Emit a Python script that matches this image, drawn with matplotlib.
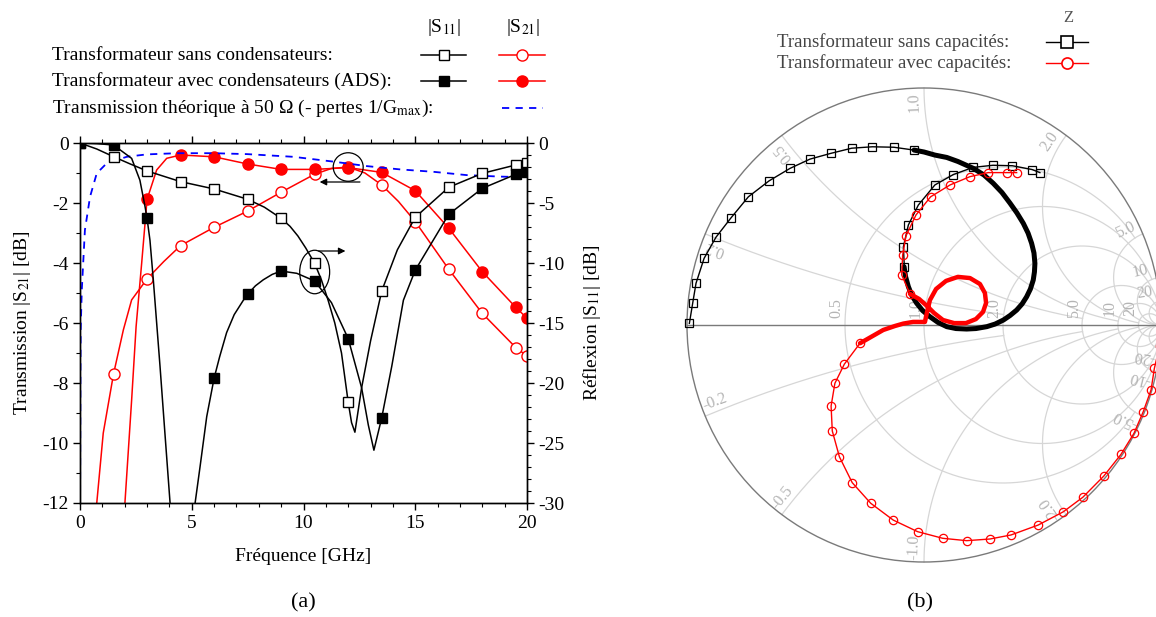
import numpy as np
import matplotlib
matplotlib.use('Agg')
import matplotlib.pyplot as plt
from matplotlib.lines import Line2D
from matplotlib.patches import Ellipse, Circle

plt.rcParams['font.family'] = ['Liberation Serif', 'DejaVu Serif']
plt.rcParams['mathtext.fontset'] = 'stix'
plt.rcParams['axes.unicode_minus'] = False

# ---------------- (a) : S-parameters vs frequency ----------------
# |S11| without capacitors (right axis, dB)
f_s11_sans = [0, 0.75, 1.5, 2.25, 3, 4.5, 6, 7.5, 8.25, 9, 9.4, 9.75, 10.1, 10.5, 10.8, 11.1,
              11.4, 11.7, 12, 12.15, 12.3, 12.6, 13.0, 13.5, 14.2, 15, 16.5, 18, 19.5, 20]
s11_sans = [0, -0.5, -1.14, -1.75, -2.33, -3.22, -3.83, -4.69, -5.35, -6.28, -6.95, -7.75,
            -8.75, -10.03, -11.4, -13.1, -15.0, -17.5, -21.6, -23.3, -24.1, -20.4, -16.5,
            -12.33, -8.9, -6.19, -3.69, -2.53, -1.83, -1.69]

# |S11| with capacitors (ADS, right axis, dB)
f_s11_avec = [0, 0.75, 1.5, 2.31, 2.68, 2.91, 3, 3.13, 3.28, 3.58, 3.8, 4.03, 4.5, 5.15,
              5.37, 5.67, 6, 6.25, 6.56, 6.9, 7.31, 7.5, 7.85, 8.2, 8.6, 9, 9.7, 10.5, 11.25,
              12, 12.6, 12.9, 13.15, 13.5, 13.95, 14.47, 15, 16.5, 18, 19.5, 20]
s11_avec = [0, -0.05, -0.17, -1.28, -3.1, -5.3, -6.28, -8.1, -11.4, -18.6, -24.2, -30, -50,
            -30, -27, -22.8, -19.6, -17.8, -15.8, -14.3, -13.1, -12.6, -11.9, -11.4, -10.95,
            -10.67, -10.86, -11.5, -13.3, -16.3, -20.4, -23.5, -25.6, -22.9, -18.6, -13.1,
            -10.6, -5.94, -3.78, -2.61, -2.44]

# |S21| without capacitors (left axis, dB)
f_s21_sans = [0.6, 0.75, 1.04, 1.5, 1.94, 2.31, 3, 3.75, 4.5, 6, 7.5, 9, 10.5, 11.25, 12,
              12.75, 13.5, 14.25, 15, 16.5, 18, 19.5, 20]
s21_sans = [-13.5, -12, -9.67, -7.7, -6.23, -5.23, -4.53, -3.95, -3.42, -2.81, -2.27, -1.64,
            -1.04, -0.85, -0.8, -1.0, -1.4, -1.95, -2.62, -4.21, -5.68, -6.82, -7.1]

# |S21| with capacitors (ADS, left axis, dB)
f_s21_avec = [1.9, 2.01, 2.31, 2.51, 2.76, 3, 3.43, 3.88, 4.5, 6, 7.5, 9, 10.5, 12, 13.5,
              15, 16.5, 18, 19.5, 20]
s21_avec = [-13, -12, -8.57, -6.12, -4.0, -1.88, -0.9, -0.51, -0.4, -0.46, -0.7, -0.88,
            -0.88, -0.82, -0.98, -1.59, -2.84, -4.29, -5.48, -5.84]

# theoretical transmission at 50 ohm (left axis, dB)
f_theo = [0.0, 0.02, 0.03, 0.08, 0.22, 0.45, 0.75, 1.19, 1.64, 2.09, 2.98, 4.33, 5.96, 7.46,
          9.54, 11.33, 12.83, 14.32, 15.81, 17.3, 18.79, 20]
s21_theo = [-13, -7.5, -6.23, -4.9, -2.9, -1.79, -1.01, -0.68, -0.57, -0.46, -0.38, -0.34,
            -0.34, -0.37, -0.46, -0.62, -0.77, -0.88, -0.96, -1.07, -1.12, -1.14]

legend_rows = ['Transformateur sans condensateurs:',
               'Transformateur avec condensateurs (ADS):',
               'Transmission théorique à 50 Ω (- pertes 1/G$_{\\mathrm{max}}$):']


def marker_idx(freqs):
    return [i for i, f in enumerate(freqs)
            if abs(f / 1.5 - round(f / 1.5)) < 1e-6 or f == 20]


fig = plt.figure(figsize=(11.56, 6.17), dpi=100)

ax = fig.add_axes([80 / 1156, 1 - 503 / 617, 447 / 1156, 360 / 617])
ax2 = ax.twinx()

ax.plot(f_theo, s21_theo, color='#0000ff', lw=1.3, ls=(0, (4, 3.5)), zorder=3)
ax.plot(f_s21_sans, s21_sans, color='red', lw=1.1, marker='o', ms=8, mfc='white',
        mec='red', mew=1.0, markevery=marker_idx(f_s21_sans))
ax.plot(f_s21_avec, s21_avec, color='red', lw=1.1, marker='o', ms=8, mfc='red',
        mec='red', markevery=marker_idx(f_s21_avec))
ax2.plot(f_s11_sans, s11_sans, color='black', lw=1.1, marker='s', ms=7, mfc='white',
         mec='black', mew=1.0, markevery=marker_idx(f_s11_sans))
ax2.plot(f_s11_avec, s11_avec, color='black', lw=1.1, marker='s', ms=7, mfc='black',
         mec='black', markevery=marker_idx(f_s11_avec))

ax.set_xlim(0, 20)
ax.set_ylim(-12, 0)
ax2.set_ylim(-30, 0)
ax.set_xticks(np.arange(0, 21, 5))
ax.set_xticks(np.arange(0, 21, 1), minor=True)
ax.set_yticks(np.arange(-12, 1, 2))
ax.set_yticks(np.arange(-12, 1, 1), minor=True)
ax2.set_yticks(np.arange(-30, 1, 5))
ax2.set_yticks(np.arange(-30, 1, 1), minor=True)
for a in (ax, ax2):
    a.tick_params(which='major', direction='out', length=5, width=1, labelsize=14, pad=3)
    a.tick_params(which='minor', direction='out', length=3, width=0.8)
    for s in a.spines.values():
        s.set_linewidth(1.0)
ax.tick_params(axis='x', which='both', top=True)
ax.tick_params(axis='x', which='major', pad=4)

ax.set_xlabel('Fréquence [GHz]', fontsize=14)
ax.set_ylabel('Transmission |S$_{21}$| [dB]', fontsize=14)
ax2.set_ylabel('Réflexion |S$_{11}$| [dB]', fontsize=14)
ax.xaxis.set_label_coords(0.5, -0.125)
ax.yaxis.set_label_coords(-0.105, 0.5)
ax2.yaxis.set_label_coords(1.12, 0.5)

# circled groups with arrows pointing to their axis
ax.add_patch(Ellipse((12.0, -0.8), 1.34, 0.95, fill=False, lw=0.9, color='black', zorder=5))
ax.add_patch(Ellipse((10.5, -4.3), 1.34, 1.45, fill=False, lw=0.9, color='black', zorder=5))
ax.annotate('', xy=(10.6, -1.3), xytext=(12.65, -1.3),
            arrowprops=dict(arrowstyle='-|>', lw=0.9, color='black', mutation_scale=10))
ax.annotate('', xy=(12.0, -3.6), xytext=(10.55, -3.6),
            arrowprops=dict(arrowstyle='-|>', lw=0.9, color='black', mutation_scale=10))

# legend block (a)
fs_leg = 14
fig.text(444 / 1156, 1 - 28 / 617, '|S$_{11}$|', ha='center', va='center', fontsize=fs_leg)
fig.text(523 / 1156, 1 - 28 / 617, '|S$_{21}$|', ha='center', va='center', fontsize=fs_leg)
for row, y in zip(legend_rows, [55, 81, 108]):
    fig.text(52 / 1156, 1 - y / 617, row, ha='left', va='center', fontsize=fs_leg)


def leg_sample(x0, x1, y, color, marker, mfc, ms):
    fig.add_artist(Line2D([x0 / 1156, x1 / 1156], [1 - y / 617] * 2,
                          transform=fig.transFigure, color=color, lw=1.1))
    fig.add_artist(Line2D([(x0 + x1) / 2 / 1156], [1 - y / 617], transform=fig.transFigure,
                          ls='none', marker=marker, ms=ms, mfc=mfc, mec=color, mew=1.0))


leg_sample(421, 466, 55, 'black', 's', 'white', 7)
leg_sample(499, 545, 55, 'red', 'o', 'white', 8)
leg_sample(421, 466, 81, 'black', 's', 'black', 7)
leg_sample(499, 545, 81, 'red', 'o', 'red', 8)
fig.add_artist(Line2D([502 / 1156, 543 / 1156], [1 - 108 / 617] * 2, transform=fig.transFigure,
                      color='#0000ff', lw=1.3, ls=(0, (4, 3.5))))

fig.text(303 / 1156, 1 - 603 / 617, '(a)', ha='center', va='center', fontsize=16)
fig.text(920 / 1156, 1 - 603 / 617, '(b)', ha='center', va='center', fontsize=16)

# ---------------- (b) : Smith chart (reflection coefficient) ----------------
# without capacitors: thin outer arc with markers
g_sans_outer_re = [-0.990, -0.976, -0.962, -0.928, -0.878, -0.816, -0.741, -0.654, -0.565,
                   -0.481, -0.394, -0.305, -0.218, -0.127, -0.042]
g_sans_outer_im = [0.007, 0.092, 0.176, 0.281, 0.370, 0.450, 0.541, 0.608, 0.661, 0.700,
                   0.724, 0.746, 0.752, 0.750, 0.738]
# dense (thick) part
g_sans_dense_re = [-0.042, 0.000, 0.046, 0.096, 0.143, 0.208, 0.253, 0.292, 0.329, 0.363,
                   0.392, 0.419, 0.439, 0.454, 0.464, 0.468, 0.466, 0.461, 0.449, 0.433,
                   0.414, 0.391, 0.363, 0.335, 0.300, 0.265, 0.219, 0.180, 0.135, 0.096,
                   0.059, 0.025, -0.006, -0.031, -0.051, -0.066, -0.078, -0.084]
g_sans_dense_im = [0.738, 0.730, 0.717, 0.707, 0.690, 0.661, 0.633, 0.598, 0.559, 0.514,
                   0.473, 0.429, 0.388, 0.345, 0.304, 0.260, 0.224, 0.190, 0.152, 0.119,
                   0.089, 0.063, 0.040, 0.021, 0.004, -0.007, -0.015, -0.017, -0.015, -0.007,
                   0.011, 0.035, 0.061, 0.092, 0.124, 0.162, 0.205, 0.246]
# inner loop with markers
g_sans_inner_re = [-0.083, -0.087, -0.066, -0.024, 0.046, 0.124, 0.207, 0.291, 0.373, 0.456,
                   0.489]
g_sans_inner_im = [0.246, 0.330, 0.422, 0.506, 0.591, 0.635, 0.665, 0.674, 0.672, 0.656,
                   0.643]

# with capacitors: lower arc with markers
g_avec_outer_re = [0.994, 0.972, 0.958, 0.925, 0.886, 0.831, 0.759, 0.670, 0.588, 0.482,
                   0.367, 0.278, 0.180, 0.079, -0.027, -0.130, -0.225, -0.303, -0.357,
                   -0.387, -0.392, -0.376, -0.336, -0.270]
g_avec_outer_im = [-0.089, -0.183, -0.274, -0.366, -0.457, -0.546, -0.637, -0.727, -0.788,
                   -0.844, -0.886, -0.903, -0.910, -0.900, -0.872, -0.823, -0.752, -0.665,
                   -0.556, -0.447, -0.342, -0.246, -0.165, -0.077]
# dense part with the small loop
g_avec_dense_re = [-0.270, -0.221, -0.172, -0.122, -0.087, -0.046, -0.017, 0.004, 0.013,
                   0.025, 0.051, 0.093, 0.143, 0.194, 0.236, 0.257, 0.262, 0.249, 0.219,
                   0.177, 0.127, 0.080, 0.042, 0.013, -0.021, -0.059]
g_avec_dense_im = [-0.077, -0.049, -0.021, -0.004, 0.006, 0.013, 0.013, 0.013, 0.055, 0.105,
                   0.152, 0.186, 0.203, 0.198, 0.173, 0.135, 0.093, 0.055, 0.025, 0.008,
                   0.008, 0.021, 0.051, 0.080, 0.110, 0.131]
# upper branch with markers
g_avec_inner_re = [-0.059, -0.094, -0.090, -0.076, -0.034, 0.028, 0.110, 0.194, 0.271,
                   0.349, 0.391]
g_avec_inner_im = [0.131, 0.211, 0.295, 0.376, 0.464, 0.541, 0.591, 0.626, 0.643, 0.643,
                   0.643]

r_circles = [0.5, 1, 2, 5, 10, 20]
x_arcs = [0.2, 0.5, 1, 2, 5, 10, 20]
x_labels = ['0.2', '0.5', '1.0', '2.0', '5.0', '10', '20']
r_labels = ['0.5', '1.0', '2.0', '5.0', '10', '20']

R_PX = 237.0
sax = fig.add_axes([(924 - 1.05 * R_PX) / 1156, (617 - 325 - 1.05 * R_PX) / 617,
                    2.1 * R_PX / 1156, 2.1 * R_PX / 617])
sax.set_xlim(-1.05, 1.05)
sax.set_ylim(-1.05, 1.05)
sax.axis('off')

grid_col = '#d6d6d6'
lab_col = '#b4b4b4'
for r in r_circles:
    xmax = 10 * r if r < 5 else 1e6
    xv = np.tan(np.linspace(-np.arctan(xmax), np.arctan(xmax), 800))
    g = (r + 1j * xv - 1) / (r + 1j * xv + 1)
    sax.plot(g.real, g.imag, color=grid_col, lw=0.9, zorder=1)
for xa in x_arcs:
    rmax = 10 * xa if xa < 5 else 1e6
    rv = np.tan(np.linspace(0, np.arctan(rmax), 800))
    for sign in (1, -1):
        g = (rv + 1j * sign * xa - 1) / (rv + 1j * sign * xa + 1)
        sax.plot(g.real, g.imag, color=grid_col, lw=0.9, zorder=1)
sax.add_patch(Circle((0, 0), 1, fill=False, color='#7a7a7a', lw=1.0, zorder=2))
sax.plot([-1, 1], [0, 0], color='#7a7a7a', lw=1.0, zorder=2)

for xa, lab in zip(x_arcs, x_labels):
    for sign in (1, -1):
        g = (1j * sign * xa - 1) / (1j * sign * xa + 1)
        th = np.degrees(np.angle(g)) + sign * 2.5
        px = 0.94 * np.cos(np.radians(th))
        py = 0.94 * np.sin(np.radians(th))
        rot = th if sign > 0 else th + 180
        text = lab if sign > 0 else '-' + lab
        sax.text(px, py, text, rotation=rot, ha='center', va='center', fontsize=11.5,
                 color=lab_col, rotation_mode='anchor', zorder=2)
for r, lab in zip(r_circles, r_labels):
    gx = (r - 1) / (r + 1)
    sax.text(gx - 0.035, 0.07, lab, rotation=90, ha='center', va='center', fontsize=11.5,
             color=lab_col, zorder=2)

kw_sq = dict(color='black', lw=1.0, marker='s', ms=5.5, mfc='none', mec='black', mew=0.9,
             clip_on=False, zorder=4)
kw_ci = dict(color='red', lw=1.0, marker='o', ms=6, mfc='none', mec='red', mew=0.9,
             clip_on=False, zorder=5)
sax.plot(g_avec_outer_re, g_avec_outer_im, **kw_ci)
sax.plot(g_avec_dense_re, g_avec_dense_im, color='red', lw=3.2, clip_on=False, zorder=5,
         solid_joinstyle='round', solid_capstyle='round')
sax.plot(g_avec_inner_re, g_avec_inner_im, **kw_ci)
sax.plot(g_sans_outer_re, g_sans_outer_im, **kw_sq)
sax.plot(g_sans_dense_re, g_sans_dense_im, color='black', lw=3.6, clip_on=False, zorder=4,
         solid_joinstyle='round', solid_capstyle='round')
sax.plot(g_sans_inner_re, g_sans_inner_im, **kw_sq)

# legend block (b)
fig.text(1068 / 1156, 1 - 18 / 617, 'Z', ha='center', va='center', fontsize=12, color='#555555')
fig.text(777 / 1156, 1 - 42 / 617, 'Transformateur sans capacités:', ha='left', va='center',
         fontsize=13.5, color='#444444')
fig.text(777 / 1156, 1 - 63 / 617, 'Transformateur avec capacités:', ha='left', va='center',
         fontsize=13.5, color='#444444')
for y, color, marker in [(42, 'black', 's'), (63, 'red', 'o')]:
    fig.add_artist(Line2D([1046 / 1156, 1088 / 1156], [1 - y / 617] * 2,
                          transform=fig.transFigure, color=color, lw=1.0))
    fig.add_artist(Line2D([1067 / 1156], [1 - y / 617], transform=fig.transFigure, ls='none',
                          marker=marker, ms=8, mfc='white', mec=color, mew=1.2))

fig.savefig('out.png', dpi=100)
